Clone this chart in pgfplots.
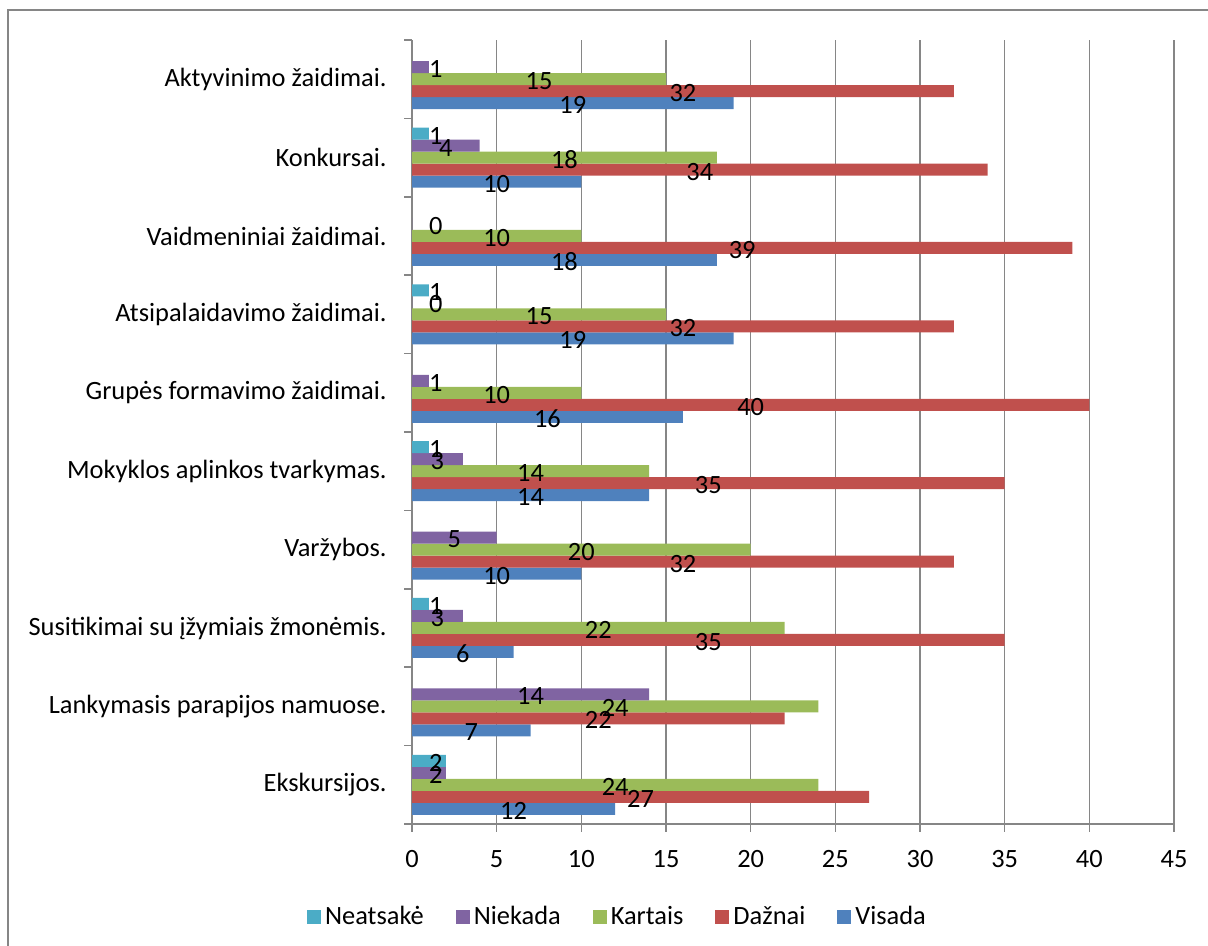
\documentclass[border=0pt]{standalone}
\usepackage{fontspec}
\setmainfont{Carlito}
\usepackage{pgfplots}
\usepackage{pgfplotstable}
\pgfplotsset{compat=1.18}
\definecolor{cVis}{HTML}{4F81BD}
\definecolor{cDaz}{HTML}{C0504D}
\definecolor{cKar}{HTML}{9BBB59}
\definecolor{cNie}{HTML}{8064A2}
\definecolor{cNea}{HTML}{4BACC6}
\definecolor{axgray}{HTML}{868686}
\newcommand\lbl{\fontsize{13.2}{15}\selectfont}
\pgfplotsset{sq legend/.style={legend image code/.code={\fill[##1,draw=none] (-1.5pt,-3.5pt) rectangle (5.5pt,3.5pt);}}}
\pgfplotstableread{
y v
0 12
1 7
2 6
3 10
4 14
5 16
6 19
7 18
8 10
9 19
}\visada
\pgfplotstableread{
y v
0 27
1 22
2 35
3 32
4 35
5 40
6 32
7 39
8 34
9 32
}\daznai
\pgfplotstableread{
y v
0 24
1 24
2 22
3 20
4 14
5 10
6 15
7 10
8 18
9 15
}\kartais
\pgfplotstableread{
y v
0 2
1 14
2 3
3 5
4 3
5 1
6 0
7 0
8 4
9 1
}\niekada
\pgfplotstableread{
y v
0 2
2 1
4 1
6 1
8 1
}\neatsake
\begin{document}
\begin{tikzpicture}[font=\lbl]
\useasboundingbox (0,0) rectangle (604pt,473pt);
\clip (0,0) rectangle (604pt,473pt);
\draw[axgray, line width=1pt] (4pt,468pt) rectangle (613pt,-10pt);
\begin{axis}[
  at={(206pt,61pt)}, anchor=south west,
  scale only axis, width=381pt, height=392pt,
  xmin=0, xmax=45, ymin=-0.5, ymax=9.5,
  axis x line*=bottom, axis y line*=left,
  axis line style={draw=axgray, line width=0.75pt},
  xtick={0,5,...,45},
  xmajorgrids, grid style={draw=axgray, line width=0.75pt},
  tick align=outside,
  major tick length=4pt,
  tick style={draw=axgray, line width=0.75pt},
  ytick={-0.5,0.5,...,9.5},
  y tick label as interval,
  yticklabels={Ekskursijos., Lankymasis parapijos namuose., Susitikimai su įžymiais žmonėmis., Varžybos., Mokyklos aplinkos tvarkymas., Grupės formavimo žaidimai., Atsipalaidavimo žaidimai., Vaidmeniniai žaidimai., Konkursai., Aktyvinimo žaidimai.},
  yticklabel style={font=\lbl, anchor=east, inner sep=0pt, xshift=-8.5pt},
  xticklabel style={font=\lbl, yshift=-5.5pt},
  /pgf/number format/assume math mode=true,
  reverse legend,
  legend style={at={(0.271,-0.118)}, anchor=center, draw=none, fill=none, legend columns=-1, font=\lbl, /tikz/every even column/.append style={column sep=14pt}},
  label plot/.style={forget plot, draw=none, mark=none, nodes near coords, point meta=explicit symbolic, every node near coord/.append style={anchor=center, inner sep=0pt, font=\lbl, yshift=-1pt}},
]
\addplot[xbar, fill=cVis, draw=none, bar width=6pt, bar shift=-12pt, sq legend] table[x=v, y=y] {\visada};
\addlegendentry{Visada}
\addplot[xbar, fill=cDaz, draw=none, bar width=6pt, bar shift=-6pt, sq legend] table[x=v, y=y] {\daznai};
\addlegendentry{Dažnai}
\addplot[xbar, fill=cKar, draw=none, bar width=6pt, bar shift=0pt, sq legend] table[x=v, y=y] {\kartais};
\addlegendentry{Kartais}
\addplot[xbar, fill=cNie, draw=none, bar width=6pt, bar shift=6pt, sq legend] table[x=v, y=y] {\niekada};
\addlegendentry{Niekada}
\addplot[xbar, fill=cNea, draw=none, bar width=6pt, bar shift=12pt, sq legend] table[x=v, y=y] {\neatsake};
\addlegendentry{Neatsakė}
\addplot[label plot] table[x expr={max(\thisrow{v}/2,1.4)}, y expr={\thisrow{y}-0.306}, meta=v] {\visada};
\addplot[label plot] table[x expr={max(\thisrow{v}/2,1.4)}, y expr={\thisrow{y}-0.153}, meta=v] {\daznai};
\addplot[label plot] table[x expr={max(\thisrow{v}/2,1.4)}, y expr={\thisrow{y}}, meta=v] {\kartais};
\addplot[label plot] table[x expr={max(\thisrow{v}/2,1.4)}, y expr={\thisrow{y}+0.153}, meta=v] {\niekada};
\addplot[label plot] table[x expr={max(\thisrow{v}/2,1.4)}, y expr={\thisrow{y}+0.306}, meta=v] {\neatsake};
\end{axis}
\end{tikzpicture}
\end{document}
